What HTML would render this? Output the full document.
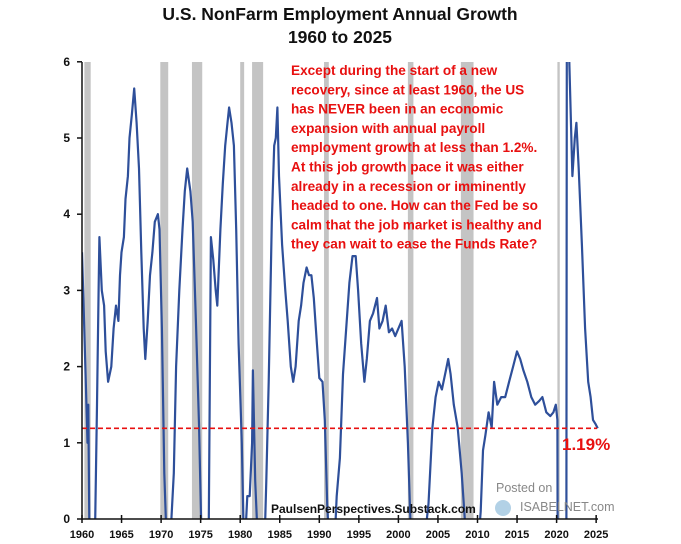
<!DOCTYPE html>
<html><head><meta charset="utf-8"><style>
html,body{margin:0;background:#fff;overflow:hidden;width:681px;height:544px;}
svg{display:block;font-family:"Liberation Sans",sans-serif;}
</style></head><body>
<svg id="c" width="681" height="544">
<text x="340" y="20" text-anchor="middle" font-size="17.5" font-weight="bold" fill="#111">U.S. NonFarm Employment Annual Growth</text>
<text x="340" y="43" text-anchor="middle" font-size="17.5" font-weight="bold" fill="#111">1960 to 2025</text>
<defs><clipPath id="pc"><rect x="82" y="62" width="520" height="457"/></clipPath></defs>
<g id="rec"></g>
<g id="ann" font-size="13.6" font-weight="bold" fill="#e81010">
<text x="291" y="75">Except during the start of a new</text>
<text x="291" y="94.3">recovery, since at least 1960, the US</text>
<text x="291" y="113.6">has NEVER been in an economic</text>
<text x="291" y="132.9">expansion with annual payroll</text>
<text x="291" y="152.2">employment growth at less than 1.2%.</text>
<text x="291" y="171.5">At this job growth pace it was either</text>
<text x="291" y="190.8">already in a recession or imminently</text>
<text x="291" y="210.1">headed to one.  How can the Fed be so</text>
<text x="291" y="229.4">calm that the job market is healthy and</text>
<text x="291" y="248.7">they can wait to ease the Funds Rate?</text>
</g>
<g id="series" clip-path="url(#pc)"></g>
<g id="axes"></g>
<text x="271" y="513" font-size="12" font-weight="bold" fill="#111">PaulsenPerspectives.Substack.com</text>
<text x="496" y="492" font-size="12.5" fill="#888">Posted on</text>
<circle cx="503" cy="508" r="8" fill="#9fc6e0" opacity="0.8"/>
<text x="520" y="511" font-size="12.5" fill="#888">ISABELNET.com</text>
</svg>
<script>
const years=[1960.0,1960.2,1960.5,1960.7,1960.8,1961.0,1961.6,1961.9,1962.1,1962.2,1962.5,1962.8,1963.0,1963.3,1963.7,1964.0,1964.3,1964.6,1964.8,1965.0,1965.3,1965.5,1965.8,1966.0,1966.3,1966.6,1966.9,1967.2,1967.5,1967.8,1968.0,1968.3,1968.6,1968.9,1969.2,1969.6,1969.8,1970.1,1970.4,1970.7,1971.0,1971.3,1971.6,1971.9,1972.3,1972.7,1973.0,1973.3,1973.7,1974.0,1974.4,1974.8,1975.1,1975.5,1976.0,1976.3,1976.6,1976.9,1977.1,1977.5,1977.8,1978.1,1978.4,1978.6,1978.9,1979.2,1979.5,1979.8,1980.2,1980.5,1980.9,1981.2,1981.5,1981.6,1981.9,1982.3,1982.9,1983.3,1983.6,1984.0,1984.3,1984.5,1984.7,1984.9,1985.3,1985.7,1986.0,1986.4,1986.7,1987.0,1987.4,1987.7,1988.0,1988.4,1988.7,1989.0,1989.3,1989.7,1990.0,1990.4,1990.7,1991.0,1991.3,1991.8,1992.2,1992.6,1993.0,1993.4,1993.8,1994.2,1994.6,1994.9,1995.3,1995.7,1996.0,1996.4,1996.8,1997.3,1997.6,1998.0,1998.4,1998.8,1999.2,1999.6,2000.0,2000.4,2000.8,2001.2,2001.6,2002.2,2002.7,2003.3,2003.8,2004.3,2004.7,2005.1,2005.5,2006.0,2006.3,2006.6,2007.0,2007.5,2008.0,2008.6,2009.2,2010.0,2010.4,2010.7,2011.0,2011.4,2011.8,2012.1,2012.5,2013.0,2013.5,2014.0,2014.5,2015.0,2015.4,2015.8,2016.3,2016.8,2017.3,2017.8,2018.2,2018.7,2019.2,2019.6,2019.9,2020.1,2020.3,2021.2,2021.3,2021.6,2022.0,2022.3,2022.5,2022.8,2023.2,2023.6,2024.0,2024.3,2024.6,2024.9,2025.2];
const growth=[3.5,2.8,1.7,1.0,1.5,-1,-0.5,1.5,3.0,3.7,3.0,2.8,2.2,1.8,2.0,2.5,2.8,2.6,3.2,3.5,3.7,4.2,4.5,5.0,5.3,5.65,5.2,4.6,3.5,2.5,2.1,2.6,3.2,3.5,3.9,4.0,3.8,2.5,0.6,-0.3,-0.5,0,0.6,2.0,3.0,3.8,4.3,4.6,4.3,3.9,2.6,1.2,-0.2,-1,-0.5,3.7,3.4,3.0,2.8,3.8,4.4,4.9,5.2,5.4,5.2,4.9,3.8,2.3,1.0,-0.5,0.3,0.3,1.0,1.95,0.5,-0.5,-1,0.5,1.8,3.9,4.9,5.0,5.4,4.5,3.6,3.0,2.6,2.0,1.8,2.0,2.6,2.8,3.1,3.3,3.2,3.2,2.9,2.3,1.85,1.8,1.3,0.2,-0.5,-0.6,0.3,0.8,1.9,2.5,3.1,3.45,3.45,3.0,2.3,1.8,2.1,2.6,2.7,2.9,2.5,2.6,2.8,2.45,2.5,2.4,2.5,2.6,2.0,1.0,-0.3,-1,-0.5,-0.3,0.2,1.2,1.6,1.8,1.7,1.95,2.1,1.9,1.5,1.2,0.6,-0.3,-3,-0.5,0.1,0.9,1.1,1.4,1.2,1.8,1.5,1.6,1.6,1.8,2.0,2.2,2.1,1.95,1.8,1.6,1.5,1.55,1.6,1.4,1.35,1.4,1.5,1.3,-10,-5,8,6.0,4.5,5.0,5.2,4.6,3.6,2.5,1.8,1.6,1.3,1.25,1.19];
const recStart=[1960.3,1969.9,1973.9,1980.0,1981.5,1990.6,2001.2,2007.9,2020.1];
const recEnd=[1961.1,1970.9,1975.2,1980.5,1982.9,1991.2,2001.9,2009.5,2020.4];
const xTicks=[1960,1965,1970,1975,1980,1985,1990,1995,2000,2005,2010,2015,2020,2025];
const yTicks=[0,1,2,3,4,5,6];
const threshold=1.19;
const NS="http://www.w3.org/2000/svg";
const X=y=>82+(y-1960)*7.91;
const Y=v=>519-v*76.2;
const YMIN=-0.02,YMAX=6.02;
function mk(t,a,p){const e=document.createElementNS(NS,t);for(const k in a)e.setAttribute(k,a[k]);p.appendChild(e);return e;}
const rec=document.getElementById('rec');
recStart.forEach((s,i)=>{const r=mk('rect',{x:X(s),y:62,width:X(recEnd[i])-X(s),height:457,fill:'#c4c4c4'},rec);

});
// clip each segment to [YMIN,YMAX] in data space
let d='',pen=false;
function pt(x,v,move){d+=(move?'M':'L')+X(x).toFixed(1)+','+Y(v).toFixed(1);}
for(let i=0;i<years.length-1;i++){
  let x0=years[i],v0=growth[i],x1=years[i+1],v1=growth[i+1];
  const lo=Math.min(v0,v1),hi=Math.max(v0,v1);
  if(hi<YMIN||lo>YMAX){pen=false;continue;}
  const at=v=>x0+(x1-x0)*(v-v0)/(v1-v0);
  let ax=x0,av=v0,bx=x1,bv=v1;
  if(av<YMIN){ax=at(YMIN);av=YMIN;} else if(av>YMAX){ax=at(YMAX);av=YMAX;}
  if(bv<YMIN){bx=at(YMIN);bv=YMIN;} else if(bv>YMAX){bx=at(YMAX);bv=YMAX;}
  const clippedStart=(v0<YMIN||v0>YMAX);
  if(!pen||clippedStart)pt(ax,av,true);
  pt(bx,bv,false);
  pen=!(v1<YMIN||v1>YMAX);
}
const ser=document.getElementById('series');
const ln=mk('path',{d:d,fill:'none',stroke:'#2e4f9a','stroke-width':2.2,'stroke-linejoin':'round'},ser);


const ax=document.getElementById('axes');
const th=mk('line',{x1:82,x2:597,y1:Y(threshold),y2:Y(threshold),stroke:'#e81010','stroke-width':1.6,'stroke-dasharray':'5,3'},ax);


const tl=mk('text',{x:562,y:450,'font-size':17,'font-weight':'bold',fill:'#e81010'},ax);
tl.textContent=threshold.toFixed(2)+'%';


const ya=mk('line',{x1:82,x2:82,y1:62,y2:520,stroke:'#111','stroke-width':1.5},ax);


const xa=mk('line',{x1:82,x2:598,y1:519,y2:519,stroke:'#111','stroke-width':1.5},ax);


yTicks.forEach(v=>{mk('line',{x1:77,x2:82,y1:Y(v),y2:Y(v),stroke:'#111','stroke-width':1.5},ax);
const t=mk('text',{x:70,y:Y(v)+4,'text-anchor':'end','font-size':12,'font-weight':'bold',fill:'#111'},ax);t.textContent=v;

});
xTicks.forEach(v=>{mk('line',{x1:X(v),x2:X(v),y1:515,y2:523,stroke:'#111','stroke-width':1.5},ax);
const t=mk('text',{x:X(v),y:538,'text-anchor':'middle','font-size':11,'font-weight':'bold',fill:'#111'},ax);t.textContent=v;

});
</script>
</body></html>
